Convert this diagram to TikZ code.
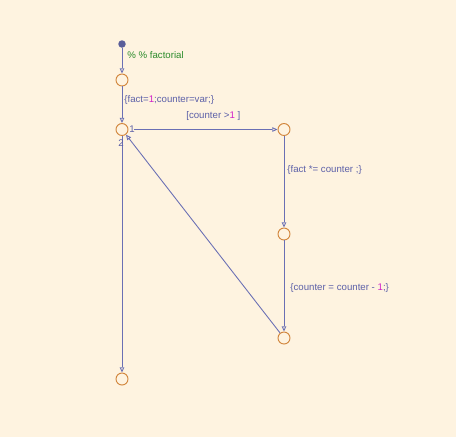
\documentclass[tikz,border=0pt]{standalone}
\usepackage{fontspec}
\setmainfont{Liberation Sans}
\usetikzlibrary{arrows.meta}
\definecolor{chartbg}{HTML}{FEF3E0}
\definecolor{wire}{HTML}{6A6FB4}
\definecolor{junc}{HTML}{D2873E}
\definecolor{lbl}{HTML}{5C60A8}
\definecolor{num}{HTML}{D21EC8}
\definecolor{cmt}{HTML}{2A8A2A}
\def\lblfont{\fontsize{5.5}{6.5}\selectfont}
\tikzset{
  junction/.style={circle, draw=junc, line width=0.55pt, minimum size=0.24cm, inner sep=0pt},
  dflt/.style={circle, fill=wire!85!black, minimum size=0.15cm, inner sep=0pt},
  trans/.style={draw=wire, line width=0.5pt, -{Triangle[open,length=3pt,width=2.6pt]}},
  lab/.style={text=lbl, font=\lblfont, inner sep=0pt, anchor=west}
}

\begin{document}
\begin{tikzpicture}[x=0.02cm, y=-0.02cm]
		%%%%% START %%%%%
		
		\fill[chartbg] (0, 0) rectangle (456, 437);
		
		\node[dflt] (start) at (122, 44) {};
		\node[junction] (j1) at (122, 80) {};
		\node[junction] (j2) at (122, 129.5) {};
		\node[junction] (j3) at (284, 129.5) {};
		\node[junction] (j4) at (284, 234) {};
		\node[junction] (j5) at (284, 338) {};
		\node[junction] (j6) at (122, 379) {};
		
		\draw[trans] (start) -- (j1);
		\draw[trans] (j1) -- (j2);
		\draw[trans] (j2.east) ++(6, 0) -- (j3.west);
		\draw[trans] (j3) -- (j4);
		\draw[trans] (j4) -- (j5);
		\draw[trans] (j5) -- (j2);
		\draw[trans] (j2) -- (j6);
		
		\node[lab, text=cmt] (c1) at (127, 55) {\% \% factorial};
		\node[lab] (a1) at (124, 100) {\{fact=\textcolor{num}{1};counter=var;\}};
		\node[lab] (g1) at (186, 116) {[counter >\textcolor{num}{1} ]};
		\node[lab] (n1) at (129, 129.5) {1};
		\node[lab, anchor=center] (n2) at (121, 143.5) {2};
		\node[lab] (a2) at (287, 170) {\{fact *= counter ;\}};
		\node[lab] (a3) at (290, 288) {\{counter = counter - \textcolor{num}{1};\}};
		
		%%%%% END %%%%%
	\end{tikzpicture}
\end{document}
